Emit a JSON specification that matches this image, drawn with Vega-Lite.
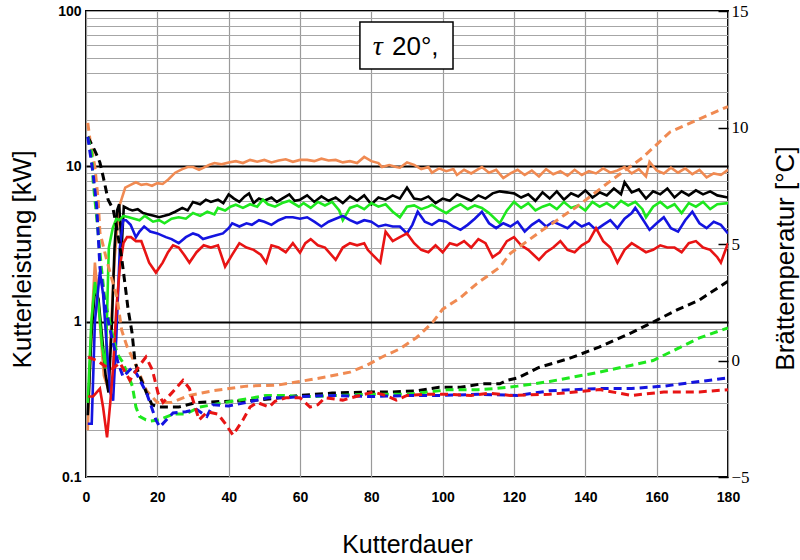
{
  "$schema": "https://vega.github.io/schema/vega-lite/v6.json",
  "width": 642,
  "height": 466,
  "autosize": {"type": "none"},
  "padding": {"left": 86, "top": 11, "right": 72, "bottom": 83},
  "background": "white",
  "config": {
    "view": {"stroke": "black", "strokeWidth": 2},
    "axis": {"labelColor": "black", "titleColor": "black", "labelFlush": false, "labelOverlap": false, "domain": false}
  },
  "datasets": {
    "power": [
      {"s":"orange","t":0.5,"v":0.2},{"s":"orange","t":1.5,"v":0.9},{"s":"orange","t":2.5,"v":2.4},{"s":"orange","t":3.2,"v":1.6},{"s":"orange","t":4,"v":0.9},{"s":"orange","t":5,"v":0.45},{"s":"orange","t":6.2,"v":0.37},{"s":"orange","t":7,"v":0.9},{"s":"orange","t":8,"v":2.5},{"s":"orange","t":9.3,"v":5.5},{"s":"orange","t":11,"v":7.3},{"s":"orange","t":12.5,"v":7.6},{"s":"orange","t":14,"v":7.9},{"s":"orange","t":15.5,"v":7.6},{"s":"orange","t":17,"v":7.7},{"s":"orange","t":18.5,"v":7.5},{"s":"orange","t":20,"v":7.8},{"s":"orange","t":21.5,"v":7.7},{"s":"orange","t":23,"v":8.2},{"s":"orange","t":25,"v":9.1},{"s":"orange","t":27,"v":9.6},{"s":"orange","t":28.5,"v":9.9},{"s":"orange","t":30,"v":9.9},{"s":"orange","t":31.7,"v":9.5},{"s":"orange","t":33,"v":9.8},{"s":"orange","t":34.5,"v":10.2},{"s":"orange","t":36,"v":10.5},{"s":"orange","t":38,"v":10.3},{"s":"orange","t":40,"v":10.6},{"s":"orange","t":42,"v":10.8},{"s":"orange","t":44,"v":10.5},{"s":"orange","t":46,"v":11.0},{"s":"orange","t":48,"v":10.7},{"s":"orange","t":50,"v":11.0},{"s":"orange","t":52,"v":10.6},{"s":"orange","t":54,"v":10.9},{"s":"orange","t":56,"v":11.1},{"s":"orange","t":58,"v":10.7},{"s":"orange","t":60,"v":11.0},{"s":"orange","t":62,"v":11.0},{"s":"orange","t":64,"v":10.8},{"s":"orange","t":66,"v":11.2},{"s":"orange","t":68,"v":10.9},{"s":"orange","t":70,"v":11.0},{"s":"orange","t":72,"v":10.6},{"s":"orange","t":74,"v":10.8},{"s":"orange","t":76,"v":10.5},{"s":"orange","t":78,"v":11.5},{"s":"orange","t":80,"v":10.8},{"s":"orange","t":82,"v":10.5},{"s":"orange","t":83,"v":9.9},{"s":"orange","t":85,"v":10.2},{"s":"orange","t":87,"v":9.9},{"s":"orange","t":88,"v":9.8},{"s":"orange","t":90,"v":10.6},{"s":"orange","t":92,"v":10.2},{"s":"orange","t":94,"v":9.6},{"s":"orange","t":96,"v":9.9},{"s":"orange","t":97,"v":9.1},{"s":"orange","t":99,"v":9.7},{"s":"orange","t":101,"v":9.3},{"s":"orange","t":103,"v":9.6},{"s":"orange","t":104,"v":8.8},{"s":"orange","t":106,"v":9.5},{"s":"orange","t":108,"v":9.0},{"s":"orange","t":110,"v":9.6},{"s":"orange","t":111,"v":9.9},{"s":"orange","t":113,"v":9.1},{"s":"orange","t":115,"v":9.5},{"s":"orange","t":117,"v":8.4},{"s":"orange","t":119,"v":9.0},{"s":"orange","t":121,"v":9.5},{"s":"orange","t":123,"v":8.8},{"s":"orange","t":125,"v":9.4},{"s":"orange","t":127,"v":8.6},{"s":"orange","t":129,"v":9.6},{"s":"orange","t":131,"v":8.9},{"s":"orange","t":133,"v":9.3},{"s":"orange","t":135,"v":8.7},{"s":"orange","t":137,"v":9.5},{"s":"orange","t":139,"v":8.8},{"s":"orange","t":141,"v":9.3},{"s":"orange","t":143,"v":9.0},{"s":"orange","t":145,"v":9.7},{"s":"orange","t":147,"v":9.1},{"s":"orange","t":149,"v":9.4},{"s":"orange","t":151,"v":9.9},{"s":"orange","t":153,"v":9.0},{"s":"orange","t":155,"v":9.6},{"s":"orange","t":157,"v":8.6},{"s":"orange","t":158,"v":10.7},{"s":"orange","t":160,"v":9.4},{"s":"orange","t":162,"v":9.0},{"s":"orange","t":164,"v":9.8},{"s":"orange","t":166,"v":9.1},{"s":"orange","t":168,"v":9.7},{"s":"orange","t":170,"v":8.9},{"s":"orange","t":172,"v":9.5},{"s":"orange","t":174,"v":8.5},{"s":"orange","t":176,"v":9.0},{"s":"orange","t":178,"v":8.8},{"s":"orange","t":180,"v":9.5},

      {"s":"black","t":0.5,"v":0.25},{"s":"black","t":1.5,"v":0.8},{"s":"black","t":2.5,"v":1.6},{"s":"black","t":3.5,"v":1.4},{"s":"black","t":4.5,"v":0.8},{"s":"black","t":5.5,"v":0.45},{"s":"black","t":6.3,"v":0.35},{"s":"black","t":7.2,"v":0.9},{"s":"black","t":8,"v":3.0},{"s":"black","t":8.7,"v":5.2},{"s":"black","t":9.3,"v":5.7},{"s":"black","t":10,"v":3.0},{"s":"black","t":10.6,"v":5.5},{"s":"black","t":12,"v":5.3},{"s":"black","t":13,"v":5.2},{"s":"black","t":14.5,"v":5.3},{"s":"black","t":16,"v":5.0},{"s":"black","t":17.5,"v":4.9},{"s":"black","t":19,"v":4.8},{"s":"black","t":20.5,"v":4.7},{"s":"black","t":22,"v":4.8},{"s":"black","t":23.3,"v":4.9},{"s":"black","t":25,"v":5.1},{"s":"black","t":27,"v":5.4},{"s":"black","t":28.5,"v":5.2},{"s":"black","t":30,"v":5.9},{"s":"black","t":32,"v":5.7},{"s":"black","t":33.6,"v":6.1},{"s":"black","t":35,"v":5.9},{"s":"black","t":37,"v":6.1},{"s":"black","t":38.5,"v":5.8},{"s":"black","t":40,"v":6.6},{"s":"black","t":41.5,"v":6.2},{"s":"black","t":43,"v":5.9},{"s":"black","t":44.5,"v":6.4},{"s":"black","t":45.7,"v":6.7},{"s":"black","t":47,"v":5.8},{"s":"black","t":48.5,"v":6.2},{"s":"black","t":50,"v":6.0},{"s":"black","t":52,"v":6.3},{"s":"black","t":53.5,"v":5.9},{"s":"black","t":55,"v":6.2},{"s":"black","t":57,"v":6.6},{"s":"black","t":58.5,"v":6.0},{"s":"black","t":60,"v":6.1},{"s":"black","t":62,"v":6.5},{"s":"black","t":64,"v":5.9},{"s":"black","t":66,"v":6.4},{"s":"black","t":68,"v":6.0},{"s":"black","t":70,"v":6.3},{"s":"black","t":72,"v":5.8},{"s":"black","t":74,"v":6.4},{"s":"black","t":76,"v":6.0},{"s":"black","t":78,"v":6.5},{"s":"black","t":80,"v":5.7},{"s":"black","t":82,"v":6.3},{"s":"black","t":84,"v":6.1},{"s":"black","t":86,"v":6.5},{"s":"black","t":88,"v":6.2},{"s":"black","t":90,"v":7.3},{"s":"black","t":92,"v":6.2},{"s":"black","t":94,"v":6.1},{"s":"black","t":96,"v":6.4},{"s":"black","t":98,"v":5.8},{"s":"black","t":100,"v":6.2},{"s":"black","t":102,"v":6.0},{"s":"black","t":104,"v":6.6},{"s":"black","t":106,"v":6.3},{"s":"black","t":108,"v":6.0},{"s":"black","t":110,"v":6.5},{"s":"black","t":112,"v":6.2},{"s":"black","t":114,"v":6.7},{"s":"black","t":116,"v":6.9},{"s":"black","t":118,"v":6.8},{"s":"black","t":120,"v":6.7},{"s":"black","t":122,"v":6.3},{"s":"black","t":124,"v":6.6},{"s":"black","t":126,"v":6.0},{"s":"black","t":128,"v":6.8},{"s":"black","t":130,"v":6.2},{"s":"black","t":132,"v":6.9},{"s":"black","t":134,"v":6.1},{"s":"black","t":136,"v":6.7},{"s":"black","t":138,"v":6.4},{"s":"black","t":140,"v":7.0},{"s":"black","t":142,"v":6.3},{"s":"black","t":144,"v":6.8},{"s":"black","t":146,"v":6.5},{"s":"black","t":148,"v":7.2},{"s":"black","t":150,"v":6.6},{"s":"black","t":151,"v":7.9},{"s":"black","t":153,"v":6.8},{"s":"black","t":155,"v":7.1},{"s":"black","t":157,"v":6.2},{"s":"black","t":159,"v":6.9},{"s":"black","t":161,"v":6.6},{"s":"black","t":163,"v":7.2},{"s":"black","t":165,"v":6.3},{"s":"black","t":167,"v":6.9},{"s":"black","t":169,"v":6.5},{"s":"black","t":171,"v":7.0},{"s":"black","t":173,"v":6.6},{"s":"black","t":175,"v":6.9},{"s":"black","t":177,"v":6.5},{"s":"black","t":180,"v":6.3},

      {"s":"green","t":0.5,"v":0.3},{"s":"green","t":1.5,"v":1.0},{"s":"green","t":2.5,"v":1.8},{"s":"green","t":3.5,"v":1.3},{"s":"green","t":4.5,"v":0.7},{"s":"green","t":5.5,"v":0.5},{"s":"green","t":6.4,"v":3.0},{"s":"green","t":7.5,"v":4.0},{"s":"green","t":8.5,"v":4.6},{"s":"green","t":9.3,"v":4.5},{"s":"green","t":10.5,"v":4.8},{"s":"green","t":12,"v":4.7},{"s":"green","t":13.5,"v":4.6},{"s":"green","t":15,"v":4.5},{"s":"green","t":16.5,"v":4.8},{"s":"green","t":18.8,"v":4.4},{"s":"green","t":20.5,"v":4.5},{"s":"green","t":22,"v":4.3},{"s":"green","t":24,"v":4.6},{"s":"green","t":26,"v":4.7},{"s":"green","t":28,"v":4.6},{"s":"green","t":30,"v":5.0},{"s":"green","t":32,"v":4.8},{"s":"green","t":34,"v":5.1},{"s":"green","t":36,"v":4.9},{"s":"green","t":37,"v":5.4},{"s":"green","t":39,"v":5.2},{"s":"green","t":40.5,"v":5.5},{"s":"green","t":42,"v":5.66},{"s":"green","t":44,"v":5.4},{"s":"green","t":46,"v":5.7},{"s":"green","t":48,"v":5.5},{"s":"green","t":49.6,"v":6.1},{"s":"green","t":51,"v":5.7},{"s":"green","t":53,"v":5.5},{"s":"green","t":55,"v":5.8},{"s":"green","t":57,"v":6.0},{"s":"green","t":59.7,"v":5.5},{"s":"green","t":61,"v":5.8},{"s":"green","t":63,"v":5.4},{"s":"green","t":65,"v":5.9},{"s":"green","t":67,"v":5.6},{"s":"green","t":69,"v":5.9},{"s":"green","t":71,"v":5.2},{"s":"green","t":72,"v":4.5},{"s":"green","t":74,"v":5.4},{"s":"green","t":76,"v":5.6},{"s":"green","t":78,"v":5.3},{"s":"green","t":80,"v":5.8},{"s":"green","t":82,"v":5.5},{"s":"green","t":84,"v":5.7},{"s":"green","t":86,"v":5.1},{"s":"green","t":88,"v":4.7},{"s":"green","t":90,"v":5.5},{"s":"green","t":92,"v":5.6},{"s":"green","t":94,"v":5.3},{"s":"green","t":96,"v":5.5},{"s":"green","t":97,"v":5.66},{"s":"green","t":99,"v":5.3},{"s":"green","t":101,"v":5.0},{"s":"green","t":103,"v":5.4},{"s":"green","t":105,"v":5.7},{"s":"green","t":107,"v":5.3},{"s":"green","t":109,"v":5.6},{"s":"green","t":111,"v":5.4},{"s":"green","t":113,"v":5.0},{"s":"green","t":116,"v":4.3},{"s":"green","t":118,"v":5.2},{"s":"green","t":120,"v":5.9},{"s":"green","t":122,"v":5.4},{"s":"green","t":124,"v":5.8},{"s":"green","t":126,"v":5.2},{"s":"green","t":128,"v":5.5},{"s":"green","t":130,"v":5.7},{"s":"green","t":132,"v":5.3},{"s":"green","t":134,"v":5.9},{"s":"green","t":136,"v":5.4},{"s":"green","t":138,"v":5.6},{"s":"green","t":140,"v":5.2},{"s":"green","t":142,"v":5.9},{"s":"green","t":144,"v":5.5},{"s":"green","t":146,"v":5.8},{"s":"green","t":148,"v":5.4},{"s":"green","t":150,"v":6.0},{"s":"green","t":152,"v":5.6},{"s":"green","t":154,"v":5.9},{"s":"green","t":156,"v":5.3},{"s":"green","t":157,"v":4.7},{"s":"green","t":159,"v":5.5},{"s":"green","t":161,"v":5.9},{"s":"green","t":163,"v":5.4},{"s":"green","t":165,"v":5.7},{"s":"green","t":167,"v":5.0},{"s":"green","t":169,"v":5.8},{"s":"green","t":171,"v":5.5},{"s":"green","t":173,"v":5.9},{"s":"green","t":175,"v":5.3},{"s":"green","t":177,"v":5.7},{"s":"green","t":180,"v":5.8},

      {"s":"blue","t":0.5,"v":0.22},{"s":"blue","t":1.6,"v":0.22},{"s":"blue","t":2.5,"v":1.0},{"s":"blue","t":3.9,"v":2.1},{"s":"blue","t":4.8,"v":1.5},{"s":"blue","t":5.8,"v":0.7},{"s":"blue","t":6.8,"v":0.35},{"s":"blue","t":7.6,"v":0.31},{"s":"blue","t":8.5,"v":0.8},{"s":"blue","t":9.5,"v":3.0},{"s":"blue","t":10.4,"v":4.5},{"s":"blue","t":11.2,"v":4.5},{"s":"blue","t":12.5,"v":4.2},{"s":"blue","t":14,"v":3.5},{"s":"blue","t":15,"v":3.8},{"s":"blue","t":16.3,"v":4.1},{"s":"blue","t":18,"v":3.8},{"s":"blue","t":20,"v":3.7},{"s":"blue","t":22.4,"v":3.5},{"s":"blue","t":24,"v":3.4},{"s":"blue","t":26,"v":3.2},{"s":"blue","t":28,"v":3.5},{"s":"blue","t":30,"v":3.7},{"s":"blue","t":31.5,"v":3.6},{"s":"blue","t":32.8,"v":3.4},{"s":"blue","t":34.5,"v":3.5},{"s":"blue","t":36.5,"v":3.6},{"s":"blue","t":38.4,"v":3.7},{"s":"blue","t":40,"v":4.0},{"s":"blue","t":41,"v":4.3},{"s":"blue","t":43,"v":4.1},{"s":"blue","t":45,"v":4.3},{"s":"blue","t":46.5,"v":4.2},{"s":"blue","t":48.5,"v":4.5},{"s":"blue","t":50,"v":4.4},{"s":"blue","t":52,"v":4.2},{"s":"blue","t":54,"v":4.5},{"s":"blue","t":56,"v":4.7},{"s":"blue","t":58,"v":4.7},{"s":"blue","t":60,"v":4.6},{"s":"blue","t":62,"v":4.7},{"s":"blue","t":64,"v":4.4},{"s":"blue","t":66,"v":4.1},{"s":"blue","t":68,"v":4.4},{"s":"blue","t":70,"v":4.6},{"s":"blue","t":72,"v":4.8},{"s":"blue","t":74,"v":4.5},{"s":"blue","t":76,"v":4.3},{"s":"blue","t":78,"v":4.5},{"s":"blue","t":80,"v":4.4},{"s":"blue","t":82,"v":4.1},{"s":"blue","t":84,"v":4.2},{"s":"blue","t":86,"v":4.1},{"s":"blue","t":88,"v":4.1},{"s":"blue","t":90,"v":3.7},{"s":"blue","t":91.5,"v":4.2},{"s":"blue","t":93,"v":5.1},{"s":"blue","t":95,"v":4.4},{"s":"blue","t":97,"v":4.2},{"s":"blue","t":99,"v":4.5},{"s":"blue","t":101,"v":4.4},{"s":"blue","t":103,"v":4.1},{"s":"blue","t":105,"v":3.9},{"s":"blue","t":107,"v":4.2},{"s":"blue","t":109,"v":4.6},{"s":"blue","t":111,"v":5.1},{"s":"blue","t":113,"v":4.3},{"s":"blue","t":115,"v":4.0},{"s":"blue","t":117,"v":4.3},{"s":"blue","t":119,"v":4.1},{"s":"blue","t":121,"v":4.4},{"s":"blue","t":123,"v":3.8},{"s":"blue","t":125,"v":4.2},{"s":"blue","t":127,"v":4.5},{"s":"blue","t":129,"v":4.1},{"s":"blue","t":131,"v":4.4},{"s":"blue","t":133,"v":4.2},{"s":"blue","t":135,"v":4.0},{"s":"blue","t":137,"v":4.4},{"s":"blue","t":139,"v":4.1},{"s":"blue","t":141,"v":4.3},{"s":"blue","t":143,"v":3.9},{"s":"blue","t":145,"v":4.2},{"s":"blue","t":147,"v":4.5},{"s":"blue","t":149,"v":4.0},{"s":"blue","t":151,"v":4.6},{"s":"blue","t":153,"v":5.0},{"s":"blue","t":154,"v":5.4},{"s":"blue","t":156,"v":4.6},{"s":"blue","t":158,"v":3.9},{"s":"blue","t":160,"v":4.3},{"s":"blue","t":162,"v":4.7},{"s":"blue","t":164,"v":4.0},{"s":"blue","t":166,"v":3.8},{"s":"blue","t":168,"v":4.5},{"s":"blue","t":170,"v":5.1},{"s":"blue","t":172,"v":4.3},{"s":"blue","t":174,"v":4.0},{"s":"blue","t":176,"v":4.4},{"s":"blue","t":178,"v":4.2},{"s":"blue","t":180,"v":3.7},

      {"s":"red","t":0.6,"v":0.33},{"s":"red","t":2,"v":0.33},{"s":"red","t":3.9,"v":0.37},{"s":"red","t":4.8,"v":0.28},{"s":"red","t":5.9,"v":0.18},{"s":"red","t":6.8,"v":0.3},{"s":"red","t":7.6,"v":0.51},{"s":"red","t":8.5,"v":1.2},{"s":"red","t":9.5,"v":2.26},{"s":"red","t":10.5,"v":3.2},{"s":"red","t":11.5,"v":3.5},{"s":"red","t":12.6,"v":3.5},{"s":"red","t":14,"v":3.3},{"s":"red","t":15.5,"v":3.3},{"s":"red","t":17.7,"v":2.4},{"s":"red","t":19.6,"v":2.07},{"s":"red","t":21.5,"v":2.4},{"s":"red","t":23,"v":2.8},{"s":"red","t":24.4,"v":3.1},{"s":"red","t":26,"v":3.0},{"s":"red","t":27.5,"v":2.7},{"s":"red","t":29,"v":2.4},{"s":"red","t":31,"v":2.8},{"s":"red","t":33,"v":3.1},{"s":"red","t":35,"v":3.0},{"s":"red","t":37,"v":3.1},{"s":"red","t":39,"v":2.26},{"s":"red","t":41,"v":2.7},{"s":"red","t":43,"v":3.2},{"s":"red","t":45,"v":3.0},{"s":"red","t":47,"v":2.9},{"s":"red","t":49,"v":2.7},{"s":"red","t":50.5,"v":2.4},{"s":"red","t":52,"v":3.1},{"s":"red","t":54,"v":3.0},{"s":"red","t":56,"v":2.8},{"s":"red","t":58,"v":3.2},{"s":"red","t":60,"v":2.78},{"s":"red","t":61.5,"v":3.2},{"s":"red","t":63,"v":3.4},{"s":"red","t":65,"v":3.1},{"s":"red","t":67,"v":3.0},{"s":"red","t":70,"v":2.5},{"s":"red","t":72,"v":3.0},{"s":"red","t":74,"v":3.2},{"s":"red","t":76,"v":3.1},{"s":"red","t":78,"v":3.2},{"s":"red","t":79,"v":2.9},{"s":"red","t":81,"v":2.6},{"s":"red","t":82.5,"v":2.4},{"s":"red","t":84,"v":3.8},{"s":"red","t":86,"v":3.3},{"s":"red","t":88,"v":3.5},{"s":"red","t":90,"v":3.7},{"s":"red","t":92,"v":3.2},{"s":"red","t":94,"v":2.9},{"s":"red","t":96,"v":2.8},{"s":"red","t":98,"v":3.1},{"s":"red","t":100,"v":2.8},{"s":"red","t":102,"v":3.2},{"s":"red","t":104,"v":3.1},{"s":"red","t":106,"v":3.3},{"s":"red","t":108,"v":3.0},{"s":"red","t":110,"v":3.4},{"s":"red","t":112,"v":3.2},{"s":"red","t":114,"v":2.6},{"s":"red","t":116,"v":2.8},{"s":"red","t":118,"v":3.3},{"s":"red","t":120,"v":3.5},{"s":"red","t":122,"v":3.1},{"s":"red","t":124,"v":2.9},{"s":"red","t":127,"v":2.5},{"s":"red","t":129,"v":2.8},{"s":"red","t":131,"v":3.0},{"s":"red","t":133,"v":3.3},{"s":"red","t":135,"v":2.9},{"s":"red","t":137,"v":2.8},{"s":"red","t":139,"v":3.1},{"s":"red","t":141,"v":3.3},{"s":"red","t":143,"v":4.0},{"s":"red","t":145,"v":3.3},{"s":"red","t":147,"v":3.0},{"s":"red","t":149,"v":2.4},{"s":"red","t":151,"v":2.9},{"s":"red","t":153,"v":3.2},{"s":"red","t":155,"v":3.0},{"s":"red","t":157,"v":2.8},{"s":"red","t":159,"v":2.9},{"s":"red","t":161,"v":3.1},{"s":"red","t":163,"v":3.0},{"s":"red","t":165,"v":3.0},{"s":"red","t":167,"v":2.8},{"s":"red","t":169,"v":3.2},{"s":"red","t":171,"v":3.3},{"s":"red","t":173,"v":3.0},{"s":"red","t":175,"v":2.9},{"s":"red","t":177,"v":2.6},{"s":"red","t":178,"v":2.4},{"s":"red","t":180,"v":3.2}
    ],
    "temp": [
      {"s":"orange","t":0.5,"c":10.2},{"s":"orange","t":1.1,"c":9.5},{"s":"orange","t":2.5,"c":8.3},{"s":"orange","t":3.4,"c":6.9},{"s":"orange","t":3.9,"c":5.5},{"s":"orange","t":5.5,"c":4.5},{"s":"orange","t":6.7,"c":3.8},{"s":"orange","t":8.7,"c":2.7},{"s":"orange","t":10,"c":1.3},{"s":"orange","t":11.5,"c":0.6},{"s":"orange","t":13.7,"c":-0.1},{"s":"orange","t":17,"c":-1.3},{"s":"orange","t":20,"c":-1.8},{"s":"orange","t":24,"c":-1.8},{"s":"orange","t":29,"c":-1.5},{"s":"orange","t":35.6,"c":-1.3},{"s":"orange","t":45,"c":-1.1},{"s":"orange","t":54,"c":-1.05},{"s":"orange","t":60,"c":-0.9},{"s":"orange","t":67.5,"c":-0.7},{"s":"orange","t":74,"c":-0.5},{"s":"orange","t":78.8,"c":-0.2},{"s":"orange","t":83,"c":0.15},{"s":"orange","t":88,"c":0.5},{"s":"orange","t":92.8,"c":1.0},{"s":"orange","t":97,"c":1.6},{"s":"orange","t":100,"c":2.2},{"s":"orange","t":105,"c":2.7},{"s":"orange","t":109.6,"c":3.3},{"s":"orange","t":116,"c":4.0},{"s":"orange","t":119,"c":4.6},{"s":"orange","t":128,"c":5.6},{"s":"orange","t":137.6,"c":6.6},{"s":"orange","t":147,"c":7.7},{"s":"orange","t":156,"c":8.7},{"s":"orange","t":163.7,"c":9.8},{"s":"orange","t":171,"c":10.3},{"s":"orange","t":180,"c":10.9},

      {"s":"black","t":0.5,"c":9.6},{"s":"black","t":2.5,"c":9.0},{"s":"black","t":3.9,"c":8.5},{"s":"black","t":4.8,"c":7.9},{"s":"black","t":6.2,"c":6.9},{"s":"black","t":7.6,"c":6.5},{"s":"black","t":8.5,"c":5.8},{"s":"black","t":10,"c":4.4},{"s":"black","t":11,"c":3.2},{"s":"black","t":11.8,"c":2.2},{"s":"black","t":12.9,"c":1.2},{"s":"black","t":13.7,"c":0.0},{"s":"black","t":14.6,"c":-0.5},{"s":"black","t":17,"c":-1.4},{"s":"black","t":18.5,"c":-1.9},{"s":"black","t":20.7,"c":-2.0},{"s":"black","t":26,"c":-2.0},{"s":"black","t":31,"c":-1.8},{"s":"black","t":40,"c":-1.75},{"s":"black","t":48,"c":-1.7},{"s":"black","t":54.4,"c":-1.6},{"s":"black","t":60,"c":-1.5},{"s":"black","t":69,"c":-1.4},{"s":"black","t":78.8,"c":-1.35},{"s":"black","t":86,"c":-1.35},{"s":"black","t":92.8,"c":-1.3},{"s":"black","t":99,"c":-1.15},{"s":"black","t":105,"c":-1.15},{"s":"black","t":111,"c":-1.0},{"s":"black","t":116,"c":-1.0},{"s":"black","t":118,"c":-0.85},{"s":"black","t":121,"c":-0.75},{"s":"black","t":127,"c":-0.3},{"s":"black","t":135.7,"c":0.1},{"s":"black","t":144,"c":0.58},{"s":"black","t":153,"c":1.2},{"s":"black","t":159,"c":1.65},{"s":"black","t":165.7,"c":2.17},{"s":"black","t":172,"c":2.6},{"s":"black","t":180,"c":3.4},

      {"s":"green","t":0.5,"c":9.6},{"s":"green","t":1.6,"c":8.9},{"s":"green","t":2,"c":7.7},{"s":"green","t":2.5,"c":6.9},{"s":"green","t":3.4,"c":5.5},{"s":"green","t":4.3,"c":4.0},{"s":"green","t":5.3,"c":2.6},{"s":"green","t":7.3,"c":1.2},{"s":"green","t":8.7,"c":0.3},{"s":"green","t":10.4,"c":-0.1},{"s":"green","t":13,"c":-1.1},{"s":"green","t":14,"c":-2.0},{"s":"green","t":15,"c":-2.4},{"s":"green","t":16.8,"c":-2.55},{"s":"green","t":18,"c":-2.6},{"s":"green","t":20.5,"c":-2.55},{"s":"green","t":24.4,"c":-2.3},{"s":"green","t":28,"c":-2.3},{"s":"green","t":31.7,"c":-2.0},{"s":"green","t":35.6,"c":-1.9},{"s":"green","t":39,"c":-1.8},{"s":"green","t":45,"c":-1.65},{"s":"green","t":50.5,"c":-1.5},{"s":"green","t":56,"c":-1.5},{"s":"green","t":60,"c":-1.55},{"s":"green","t":63.6,"c":-1.55},{"s":"green","t":70,"c":-1.5},{"s":"green","t":80,"c":-1.45},{"s":"green","t":90,"c":-1.45},{"s":"green","t":102,"c":-1.25},{"s":"green","t":110,"c":-1.25},{"s":"green","t":115,"c":-1.2},{"s":"green","t":121,"c":-1.1},{"s":"green","t":130,"c":-0.9},{"s":"green","t":137,"c":-0.7},{"s":"green","t":144,"c":-0.5},{"s":"green","t":153,"c":-0.2},{"s":"green","t":159,"c":0.0},{"s":"green","t":165.7,"c":0.5},{"s":"green","t":172,"c":0.97},{"s":"green","t":180,"c":1.4},

      {"s":"blue","t":0.5,"c":9.6},{"s":"blue","t":2,"c":8.0},{"s":"blue","t":3,"c":6.6},{"s":"blue","t":3.9,"c":4.0},{"s":"blue","t":5.5,"c":2.2},{"s":"blue","t":7.6,"c":0.75},{"s":"blue","t":9,"c":-0.1},{"s":"blue","t":10.4,"c":-0.7},{"s":"blue","t":12.3,"c":-0.4},{"s":"blue","t":13,"c":-0.3},{"s":"blue","t":14.3,"c":-0.6},{"s":"blue","t":17,"c":-1.4},{"s":"blue","t":19.6,"c":-2.55},{"s":"blue","t":20.7,"c":-2.85},{"s":"blue","t":24.4,"c":-2.25},{"s":"blue","t":28,"c":-2.2},{"s":"blue","t":31,"c":-2.1},{"s":"blue","t":33.9,"c":-2.4},{"s":"blue","t":35.6,"c":-1.9},{"s":"blue","t":40,"c":-1.95},{"s":"blue","t":45,"c":-1.8},{"s":"blue","t":51,"c":-1.6},{"s":"blue","t":56,"c":-1.6},{"s":"blue","t":60,"c":-1.55},{"s":"blue","t":70,"c":-1.5},{"s":"blue","t":80,"c":-1.55},{"s":"blue","t":90,"c":-1.5},{"s":"blue","t":100,"c":-1.5},{"s":"blue","t":110,"c":-1.45},{"s":"blue","t":121,"c":-1.5},{"s":"blue","t":130,"c":-1.3},{"s":"blue","t":144,"c":-1.2},{"s":"blue","t":153,"c":-1.2},{"s":"blue","t":162,"c":-1.1},{"s":"blue","t":172,"c":-0.9},{"s":"blue","t":180,"c":-0.75},

      {"s":"red","t":0.6,"c":0.15},{"s":"red","t":3,"c":0.0},{"s":"red","t":5.9,"c":-0.3},{"s":"red","t":7.5,"c":-0.35},{"s":"red","t":9.5,"c":-0.1},{"s":"red","t":12.3,"c":-0.85},{"s":"red","t":14.6,"c":-0.3},{"s":"red","t":16.8,"c":0.15},{"s":"red","t":18.6,"c":-0.4},{"s":"red","t":20.2,"c":-1.4},{"s":"red","t":21.6,"c":-1.8},{"s":"red","t":24,"c":-1.4},{"s":"red","t":27.2,"c":-0.85},{"s":"red","t":29,"c":-1.2},{"s":"red","t":31.7,"c":-2.55},{"s":"red","t":34,"c":-2.2},{"s":"red","t":37,"c":-2.3},{"s":"red","t":39,"c":-2.7},{"s":"red","t":41.2,"c":-3.2},{"s":"red","t":44,"c":-2.55},{"s":"red","t":46,"c":-2.0},{"s":"red","t":48,"c":-1.8},{"s":"red","t":51.3,"c":-2.0},{"s":"red","t":53,"c":-1.75},{"s":"red","t":56,"c":-1.6},{"s":"red","t":60,"c":-1.6},{"s":"red","t":62.8,"c":-2.0},{"s":"red","t":65,"c":-1.9},{"s":"red","t":67,"c":-1.6},{"s":"red","t":72,"c":-1.7},{"s":"red","t":80.5,"c":-1.35},{"s":"red","t":84,"c":-1.5},{"s":"red","t":87,"c":-1.7},{"s":"red","t":90,"c":-1.5},{"s":"red","t":95,"c":-1.45},{"s":"red","t":101,"c":-1.45},{"s":"red","t":108,"c":-1.5},{"s":"red","t":113,"c":-1.4},{"s":"red","t":119,"c":-1.5},{"s":"red","t":130,"c":-1.45},{"s":"red","t":144,"c":-1.25},{"s":"red","t":153,"c":-1.5},{"s":"red","t":162,"c":-1.35},{"s":"red","t":172,"c":-1.35},{"s":"red","t":180,"c":-1.25}
    ]
  },
  "layer": [
    {
      "layer": [
        {
          "data": {"name": "power"},
          "mark": {"type": "line", "strokeWidth": 2.6, "clip": true},
          "encoding": {
            "x": {
              "field": "t", "type": "quantitative",
              "scale": {"domain": [0, 180], "nice": false, "zero": false},
              "axis": {
                "values": [0, 20, 40, 60, 80, 100, 120, 140, 160, 180],
                "ticks": false,
                "grid": true, "gridColor": "#9a9a9a", "gridWidth": 1.2,
                "labelFont": "Liberation Sans", "labelFontSize": 14, "labelFontWeight": "bold",
                "labelPadding": 13,
                "title": "Kutterdauer", "titleFont": "Liberation Sans", "titleFontSize": 25, "titleFontWeight": "normal",
                "titleY": 75, "titleBaseline": "alphabetic"
              }
            },
            "y": {
              "field": "v", "type": "quantitative",
              "scale": {"type": "log", "domain": [0.1, 100], "nice": false},
              "axis": {
                "orient": "left",
                "values": [0.1, 0.2, 0.3, 0.4, 0.5, 0.6, 0.7, 0.8, 0.9, 1, 2, 3, 4, 5, 6, 7, 8, 9, 10, 20, 30, 40, 50, 60, 70, 80, 90, 100],
                "labelExpr": "(datum.value == 0.1 || datum.value == 1 || datum.value == 10 || datum.value == 100) ? datum.label : ''",
                "format": "~g",
                "ticks": false,
                "grid": true,
                "gridColor": {"condition": {"test": "datum.value == 1 || datum.value == 10", "value": "black"}, "value": "#a6a6a6"},
                "gridWidth": {"condition": {"test": "datum.value == 1 || datum.value == 10", "value": 2.2}, "value": 1.2},
                "labelFont": "Liberation Sans", "labelFontSize": 14, "labelFontWeight": "bold",
                "labelPadding": 5,
                "title": "Kutterleistung [kW]", "titleFont": "Liberation Sans", "titleFontSize": 26, "titleFontWeight": "normal",
                "titleX": -56, "titleY": 248, "titleAngle": 270, "titleAlign": "center", "titleBaseline": "alphabetic"
              }
            },
            "color": {
              "field": "s", "type": "nominal",
              "scale": {"domain": ["orange", "black", "green", "blue", "red"], "range": ["#F08A52", "#000000", "#1EE81E", "#1414E0", "#E81414"]},
              "legend": null
            }
          }
        },
        {
          "data": {"values": [{}]},
          "mark": {"type": "rect", "fill": "white", "stroke": "black", "strokeWidth": 1.5},
          "encoding": {
            "x": {"datum": 76.8, "type": "quantitative"},
            "x2": {"datum": 102.9},
            "y": {"datum": 85, "type": "quantitative"},
            "y2": {"datum": 42.4}
          }
        },
        {
          "data": {"values": [{}]},
          "mark": {"type": "text", "text": "τ", "font": "Liberation Serif", "fontStyle": "italic", "fontSize": 28, "align": "left", "baseline": "alphabetic", "color": "black"},
          "encoding": {
            "x": {"datum": 80.4, "type": "quantitative"},
            "y": {"datum": 52.1, "type": "quantitative"}
          }
        },
        {
          "data": {"values": [{}]},
          "mark": {"type": "text", "text": "20°,", "font": "Liberation Sans", "fontSize": 26, "align": "left", "baseline": "alphabetic", "color": "black"},
          "encoding": {
            "x": {"datum": 85.8, "type": "quantitative"},
            "y": {"datum": 52.1, "type": "quantitative"}
          }
        }
      ]
    },
    {
      "data": {"name": "temp"},
      "mark": {"type": "line", "strokeWidth": 3, "strokeDash": [8, 5], "clip": true},
      "encoding": {
        "x": {"field": "t", "type": "quantitative"},
        "y": {
          "field": "c", "type": "quantitative",
          "scale": {"domain": [-5, 15], "nice": false, "zero": false},
          "axis": {
            "orient": "right",
            "values": [-5, 0, 5, 10, 15],
            "grid": false,
            "ticks": true, "tickSize": -10, "tickColor": "black", "tickWidth": 1.5,
            "labelFont": "Liberation Serif", "labelFontSize": 17,
            "labelPadding": 13,
            "title": "Brättemperatur [°C]", "titleFont": "Liberation Sans", "titleFontSize": 26, "titleFontWeight": "normal",
            "titleX": 65, "titleY": 247, "titleAngle": 270, "titleAlign": "center", "titleBaseline": "alphabetic"
          }
        },
        "color": {
          "field": "s", "type": "nominal",
          "scale": {"domain": ["orange", "black", "green", "blue", "red"], "range": ["#F08A52", "#000000", "#1EE81E", "#1414E0", "#E81414"]},
          "legend": null
        }
      }
    }
  ],
  "resolve": {"scale": {"y": "independent"}}
}
